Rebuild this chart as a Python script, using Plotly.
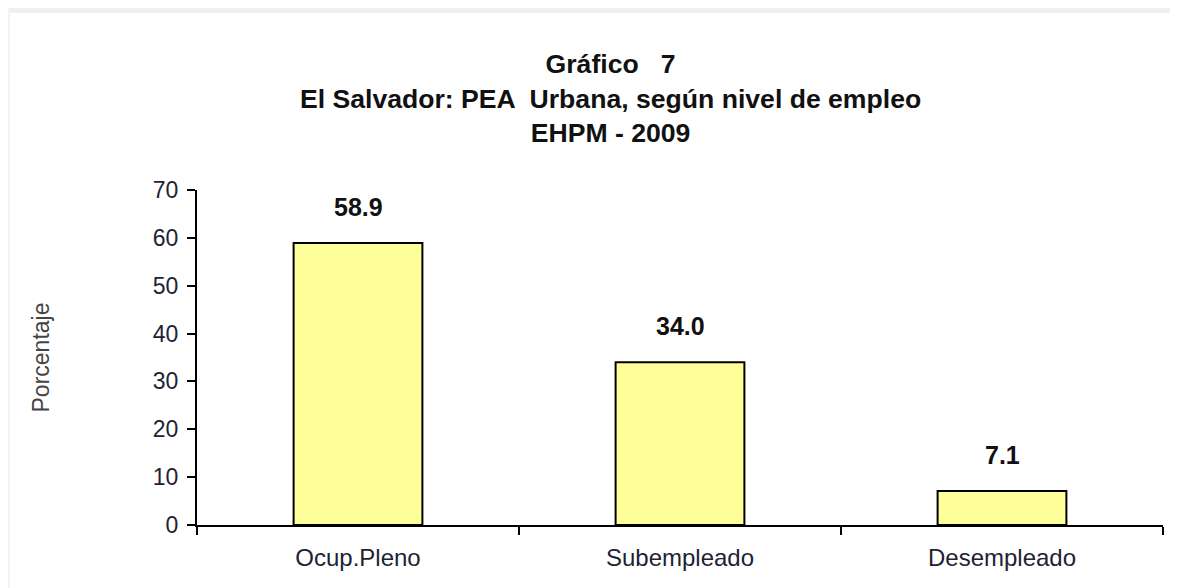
import plotly.graph_objects as go

categories = ["Ocup.Pleno", "Subempleado", "Desempleado"]
values = [58.9, 34.0, 7.1]
y_ticks = [0, 10, 20, 30, 40, 50, 60, 70]
title_lines = ["Gráfico   7", "El Salvador: PEA  Urbana, según nivel de empleo", "EHPM - 2009"]

# the page body adds an 8px margin, so the figure is 8px smaller than the window
W, H = 1170, 580
ml, mr, mt, mb = 189, 15, 182, 63
pw = W - ml - mr
ph = H - mt - mb
FONT = "Liberation Sans, Arial, sans-serif"

fig = go.Figure()
fig.add_trace(go.Bar(
    x=categories, y=values, width=0.4,
    marker=dict(color="#FFFF99", line=dict(color="#000000", width=2)),
    hoverinfo="skip",
))

for c, v in zip(categories, values):
    fig.add_annotation(x=c, y=v, text=f"<b>{v:.1f}</b>", showarrow=False,
                       yanchor="bottom", yshift=20,
                       font=dict(family=FONT, size=25, color="#111111"))

fig.add_annotation(xref="paper", yref="paper", x=(602 - ml) / pw, y=1 + (mt - 39) / ph,
                   text="<br>".join(f"<b>{t}</b>" for t in title_lines),
                   showarrow=False, yanchor="top", xanchor="center", align="center",
                   font=dict(family=FONT, size=26.6, color="#111111"))

# page shadow at top
fig.add_shape(type="rect", xref="paper", yref="paper", x0=-ml / pw, x1=1 + mr / pw,
              y0=1 + (mt - 5) / ph, y1=1 + mt / ph, fillcolor="#efefef", line_width=0, layer="below")
fig.add_shape(type="rect", xref="paper", yref="paper", x0=-ml / pw, x1=-(ml - 2) / pw,
              y0=-mb / ph, y1=1 + mt / ph, fillcolor="#f3f3f3", line_width=0, layer="below")

fig.update_layout(
    width=W, height=H,
    margin=dict(l=ml, r=mr, t=mt, b=mb),
    paper_bgcolor="white", plot_bgcolor="white",
    showlegend=False,
    font=dict(family=FONT, size=23, color="#222233"),
    xaxis=dict(showline=True, linecolor="#000000", linewidth=2,
               ticks="outside", tickson="boundaries", ticklen=8, tickwidth=2, tickcolor="#000000",
               showgrid=False, tickfont=dict(size=24, color="#222233"), ticklabelstandoff=10),
    yaxis=dict(range=[0, 70], tickvals=y_ticks, showline=True, linecolor="#000000", linewidth=2,
               ticks="outside", ticklen=8, tickwidth=2, tickcolor="#000000",
               showgrid=False, zeroline=False, tickfont=dict(size=23, color="#222233"),
               ticklabelstandoff=4,
               title=dict(text="Porcentaje", standoff=97, font=dict(size=23, color="#444444"))),
)

fig.write_html("out.html")
